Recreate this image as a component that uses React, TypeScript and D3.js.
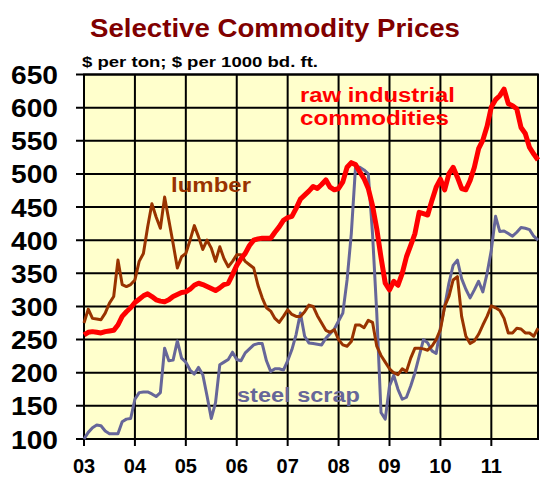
import React from "react";
import * as d3 from "d3";

const startYear = 2003;
const yearLabels = ["03", "04", "05", "06", "07", "08", "09", "10", "11"];
const yTicks = [100, 150, 200, 250, 300, 350, 400, 450, 500, 550, 600, 650];

// Monthly values, Jan 2003 – Dec 2011
const rawIndustrial = [
  257, 261, 262, 261, 260, 262, 263, 264, 272, 285, 292, 298,
  306, 311, 316, 319, 315, 310, 308, 307, 310, 315, 318, 321,
  322, 326, 332, 335, 333, 330, 327, 324, 328, 333, 335, 348,
  362, 372, 380, 392, 400, 402, 403, 403, 403, 412, 420, 430,
  434, 436, 448, 462, 468, 474, 481, 478, 484, 491, 480, 476,
  478, 488, 510, 517, 514, 503, 493, 478, 452, 417, 374, 335,
  325, 338, 332, 350, 375, 392, 410, 442, 440, 438, 460, 480,
  492, 476, 500, 510, 495, 478, 476, 490, 510, 538, 551, 572,
  601, 612, 618, 628, 606, 603, 598, 570, 561, 540, 530, 521,
];

const lumber = [
  275, 296, 282, 281, 280, 290, 305, 315, 370, 333, 330, 333,
  340, 368, 380, 420, 455, 435, 418, 465, 430, 395, 358, 375,
  380, 400, 422, 405, 386, 400, 388, 368, 390, 372, 360, 368,
  378, 378, 368, 363, 358, 332, 313, 298, 293, 282, 276, 285,
  295, 288, 285, 285, 292, 302, 300, 286, 275, 264, 261, 265,
  250, 242, 240, 247, 272, 272, 268, 279, 276, 240, 226, 216,
  206, 200, 197, 206, 202, 222, 237, 237, 236, 234, 240, 250,
  265, 300, 315, 340, 345, 285, 255, 244, 248, 258, 272, 285,
  301, 298, 294, 282, 260, 260, 267, 266, 260, 260, 255, 267,
];

const steelScrap = [
  100, 110, 117, 121, 120, 112, 108, 108, 108, 126, 130, 131,
  160, 170, 171, 171, 168, 164, 170, 237, 218, 219, 248, 222,
  216, 204, 198, 208, 197, 165, 131, 155, 212, 216, 220, 231,
  220, 218, 230, 236, 242, 244, 244, 218, 202, 206, 206, 204,
  218, 235, 258, 290, 255, 245, 244, 243, 242, 252, 259, 266,
  278, 290, 340, 410, 511, 510, 506, 500, 410, 290, 140, 130,
  180, 196, 175, 160, 163, 180, 200, 225, 250, 245, 233, 229,
  268, 300, 335, 362, 370, 342, 326, 313, 325, 338, 322, 350,
  385, 436, 413, 414, 410, 406, 412, 419, 418, 416, 406, 400,
];

const FONT = "'Liberation Sans', Arial, Helvetica, sans-serif";

export default function App() {
  const left = 84;
  const right = 538;
  const top = 74.5;
  const bottom = 439;
  const n = rawIndustrial.length;

  const x = d3
    .scaleLinear()
    .domain([startYear, startYear + (n - 1) / 12])
    .range([left, right]);
  const y = d3.scaleLinear().domain([100, 650]).range([bottom, top]);

  const t = (i: number) => startYear + i / 12;
  const line = d3
    .line<number>()
    .x((_, i) => x(t(i)))
    .y((d) => y(d))
    .curve(d3.curveLinear);

  const years = yearLabels.map((_, i) => startYear + i);

  return (
    <svg
      width={555}
      height={502}
      style={{ position: "absolute", left: 0, top: 0, background: "#fff" }}
      fontFamily={FONT}
    >
      <rect x={0} y={0} width={555} height={502} fill="#ffffff" />
      <text
        x={90}
        y={37}
        fontSize={25}
        fontWeight="bold"
        fill="#800000"
        textLength={370}
        lengthAdjust="spacingAndGlyphs"
      >
        Selective Commodity Prices
      </text>
      <text
        x={82}
        y={67}
        fontSize={15}
        fontWeight="bold"
        fill="#000"
        textLength={236}
        lengthAdjust="spacingAndGlyphs"
      >
        $ per ton; $ per 1000 bd. ft.
      </text>

      <rect
        x={left}
        y={top}
        width={right - left}
        height={bottom - top}
        fill="#FFFFCC"
      />
      {yTicks.map((v) => (
        <g key={"y" + v}>
          <line x1={left - 8} x2={right} y1={y(v)} y2={y(v)} stroke="#000" strokeWidth={2} />
          <text
            x={58}
            y={y(v)}
            dy={9.5}
            textAnchor="end"
            fontSize={26}
            fontWeight="bold"
            fill="#000"
            textLength={47}
            lengthAdjust="spacingAndGlyphs"
          >
            {v}
          </text>
        </g>
      ))}
      {years.map((yr, i) => (
        <g key={"x" + yr}>
          <line x1={x(yr)} x2={x(yr)} y1={top} y2={bottom + 7} stroke="#000" strokeWidth={2} />
          <text
            x={x(yr)}
            y={473}
            textAnchor="middle"
            fontSize={20}
            fontWeight="bold"
            fill="#000"
          >
            {yearLabels[i]}
          </text>
        </g>
      ))}
      <rect
        x={left}
        y={top}
        width={right - left}
        height={bottom - top}
        fill="none"
        stroke="#000"
        strokeWidth={2}
      />

      <path d={line(steelScrap) || ""} fill="none" stroke="#666699" strokeWidth={3} strokeLinejoin="round" />
      <path d={line(lumber) || ""} fill="none" stroke="#993300" strokeWidth={3} strokeLinejoin="round" />
      <path d={line(rawIndustrial) || ""} fill="none" stroke="#FF0000" strokeWidth={5} strokeLinejoin="round" />

      <text x={300} y={102} fontSize={20} fontWeight="bold" fill="#FF0000" textLength={155} lengthAdjust="spacingAndGlyphs">
        raw industrial
      </text>
      <text x={300} y={125} fontSize={20} fontWeight="bold" fill="#FF0000" textLength={149} lengthAdjust="spacingAndGlyphs">
        commodities
      </text>
      <text x={171} y={192} fontSize={20} fontWeight="bold" fill="#993300" textLength={80} lengthAdjust="spacingAndGlyphs">
        lumber
      </text>
      <text x={237} y={402} fontSize={20} fontWeight="bold" fill="#666699" textLength={123} lengthAdjust="spacingAndGlyphs">
        steel  scrap
      </text>
    </svg>
  );
}
